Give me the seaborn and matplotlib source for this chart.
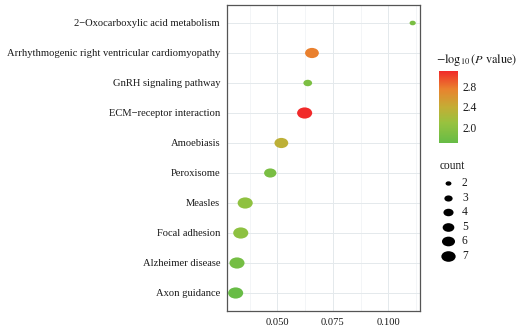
import numpy as np
import pandas as pd
import matplotlib
matplotlib.use("Agg")
import matplotlib.pyplot as plt
from matplotlib.colors import LinearSegmentedColormap, Normalize
from matplotlib.cm import ScalarMappable
from matplotlib.path import Path
import seaborn as sns

# KEGG pathway enrichment results
pathways = [
    "2\u2212Oxocarboxylic acid metabolism",
    "Arrhythmogenic right ventricular cardiomyopathy",
    "GnRH signaling pathway",
    "ECM\u2212receptor interaction",
    "Amoebiasis",
    "Peroxisome",
    "Measles",
    "Focal adhesion",
    "Alzheimer disease",
    "Axon guidance",
]
rich_factor = [0.111, 0.0656, 0.0637, 0.0623, 0.0518, 0.0468, 0.0355, 0.0335, 0.0318, 0.0312]
gene_count = [2, 6, 3, 7, 6, 5, 7, 7, 7, 7]
neg_log_p = [1.85, 2.75, 1.87, 3.09, 2.35, 1.85, 2.02, 2.0, 1.82, 1.72]

count_levels = [2, 3, 4, 5, 6, 7]
cbar_ticks = [2.0, 2.4, 2.8]
x_ticks = [0.050, 0.075, 0.100]

df = pd.DataFrame({"pathway": pathways, "ratio": rich_factor,
                   "count": gene_count, "p": neg_log_p})

sns.set_style("white")
plt.rcParams["font.family"] = ["Liberation Serif", "DejaVu Serif"]
plt.rcParams["mathtext.fontset"] = "stix"

cmap = LinearSegmentedColormap.from_list(
    "grn_red", [(0.0, "#66BC46"), (0.28, "#98C23F"), (0.5, "#C4AD35"),
                (0.75, "#E9822E"), (1.0, "#F12A2A")])
pnorm = Normalize(1.70, 3.09)
size_range = (20, 118)
size_norm = (2, 7)

# slightly wide ellipse marker
circ = Path.unit_circle()
ellipse = Path(circ.vertices * np.array([1.35, 1.0]), circ.codes)

fig = plt.figure(figsize=(5.2, 3.27), dpi=100)
ax = fig.add_axes([227 / 520, 16 / 327, 193 / 520, 306 / 327])

sns.scatterplot(data=df, x="ratio", y="pathway", hue="p", size="count",
                palette=cmap, hue_norm=pnorm, sizes=size_range,
                size_norm=size_norm, marker=ellipse, linewidth=0,
                legend=False, ax=ax, zorder=3)

ax.set_xlim(0.0273, 0.1143)
ax.set_ylim(len(pathways) - 0.4, -0.6)
ax.set_xticks(x_ticks)
ax.set_xticklabels([f"{v:.3f}" for v in x_ticks])
ax.set_xticks([0.0375, 0.0625, 0.0875, 0.1125], minor=True)
ax.grid(True, which="major", color="#E4E9EC", lw=0.7)
ax.grid(True, which="minor", axis="x", color="#EEF2F4", lw=0.5)
ax.set_axisbelow(True)
ax.set_xlabel("")
ax.set_ylabel("")
for s in ax.spines.values():
    s.set_color("#555555")
    s.set_linewidth(0.9)
ax.tick_params(axis="both", which="major", length=3, width=0.7,
               color="#444444", labelsize=7.6, labelcolor="#1a1a1a", pad=2)
ax.tick_params(axis="x", which="minor", length=0)

# colour bar legend
fig.text(436 / 520, 1 - 60 / 327, r"$-\log_{10}(P\ \mathrm{value})$",
         fontsize=8.8, ha="left", va="center", color="#1a1a1a")
cax = fig.add_axes([439 / 520, 1 - 143 / 327, 19 / 520, 72 / 327])
sm = ScalarMappable(norm=pnorm, cmap=cmap)
cb = fig.colorbar(sm, cax=cax)
cb.outline.set_visible(False)
cb.set_ticks(cbar_ticks)
cb.set_ticklabels([f"{t:.1f}" for t in cbar_ticks])
cax.tick_params(axis="y", left=True, right=True, direction="in", length=3,
                width=0.8, color="white", labelsize=8.3, labelcolor="#1a1a1a", pad=3)

# size legend
lax = fig.add_axes([0, 0, 1, 1])
lax.set_xlim(0, 520)
lax.set_ylim(327, 0)
lax.axis("off")
lax.text(440, 166, "count", fontsize=8.3, ha="left", va="center", color="#1a1a1a")
for i, c in enumerate(count_levels):
    yy = 183 + i * 14.6
    s = size_range[0] + (c - size_norm[0]) / (size_norm[1] - size_norm[0]) * (size_range[1] - size_range[0])
    lax.scatter([448], [yy], s=s * 0.9, marker=ellipse, color="black", linewidth=0)
    lax.text(462, yy, str(c), fontsize=8.3, ha="left", va="center", color="#1a1a1a")

fig.savefig("out.png", dpi=100)
